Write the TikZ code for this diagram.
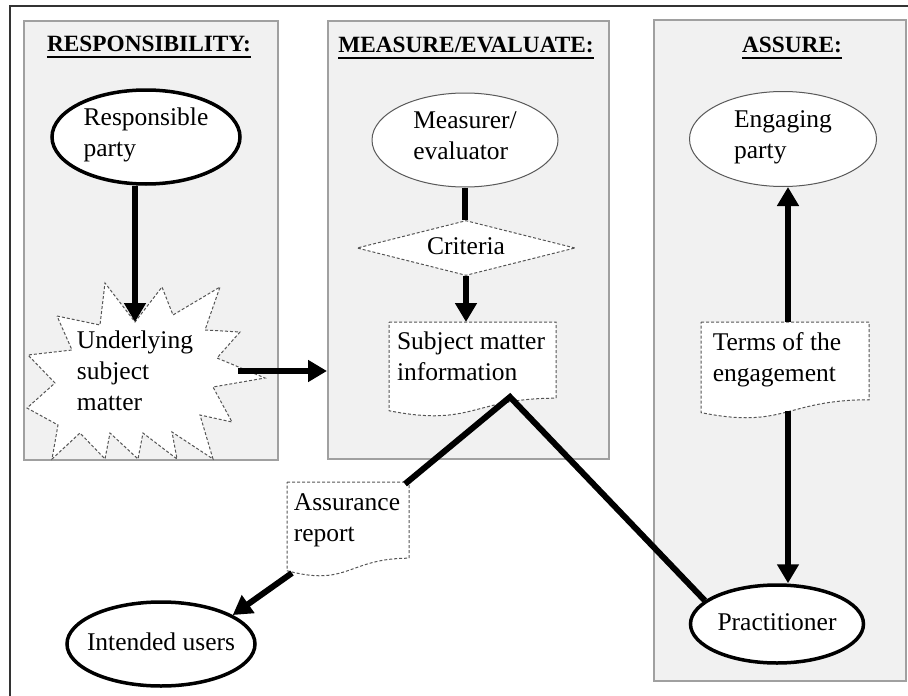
\documentclass[tikz,border=0pt]{standalone}
\usepackage{fontspec}
\setmainfont{Liberation Serif}
\usetikzlibrary{arrows.meta,shapes.geometric}
\definecolor{panelfill}{HTML}{F1F1F1}
\definecolor{panelline}{HTML}{A0A0A0}
\definecolor{dashgray}{HTML}{555555}
\definecolor{framegray}{HTML}{333333}
\tikzset{
  txt/.style={font=\fontsize{25.5}{31}\selectfont, align=left, inner sep=0pt,
    execute at begin node=\strut, execute at end node=\strut},
  ttl/.style={font=\fontsize{23.3}{27}\selectfont\bfseries, inner sep=0pt, anchor=base},
  panel/.style={fill=panelfill, draw=panelline, line width=1.5pt, anchor=north west, inner sep=0pt},
  thickell/.style={txt, ellipse, draw=black, line width=3.5pt, fill=white},
  thinell/.style={txt, ellipse, draw=black!65, line width=1pt, fill=white},
  dashline/.style={draw=dashgray, line width=1pt, dash pattern=on 3pt off 2pt},
  conn/.style={line width=6pt, line join=miter},
  arr/.style={line width=6pt, -{Triangle[length=19pt,width=21pt]}},
  uline/.style={line width=1.8pt},
  pics/docbox/.style args={#1/#2}{code={
    \draw[dashline, fill=white] (0,0) -- (#1,0) -- (#1,{0.802*#2})
      .. controls ({0.5*#1},{0.802*#2}) and ({0.5*#1},{1.107*#2}) .. (0,{0.934*#2}) -- cycle;
  }},
}
\begin{document}
\begin{tikzpicture}[x=1pt,y=-1pt]
\useasboundingbox (0,0) rectangle (908,696);
% outer frame
\draw[framegray, line width=2.5pt] (10,697) -- (10,6) -- (909,6);
% panels
\node[panel, minimum width=254pt, minimum height=439pt] (p1) at (23,20) {};
\node[panel, minimum width=281pt, minimum height=438pt] (p2) at (327,20) {};
\node[panel, minimum width=252pt, minimum height=661pt] (p3) at (653,19) {};
% titles
\node[ttl] (t1) at (149,51) {RESPONSIBILITY:};
\node[ttl] (t2) at (466,52) {MEASURE/EVALUATE:};
\node[ttl] (t3) at (792,52) {ASSURE:};
\foreach \t in {t1,t2,t3}
  \draw[uline] ([yshift=-6pt]\t.base west) -- ([yshift=-6pt]\t.base east);
% responsibility
\node[thickell, minimum width=188pt, minimum height=94pt] (resp) at (146,137) {Responsible\\party};
\draw[dashline, fill=white] (57,316) -- (100,325) -- (105,283) -- (135,322) -- (162,287) -- (173,315)
  -- (220,287) -- (205,330) -- (240,332) -- (217,358) -- (265,378) -- (213,387) -- (232,422)
  -- (200,415) -- (213,459) -- (172,432) -- (177,459) -- (143,433) -- (138,459) -- (110,433)
  -- (105,459) -- (80,433) -- (52,459) -- (58,425) -- (27,408) -- (55,383) -- (28,355)
  -- (72,350) -- cycle;
\node[txt] (under) at (135,375) {Underlying\\subject\\matter};
\coordinate (ua) at (135,322);
\draw[arr] (resp.south -| ua) -- (ua);
\coordinate (ub) at (238,371);
\draw[arr] (ub) -- (ub -| p2.west);
% measure / evaluate
\node[thinell, minimum width=186pt, minimum height=94pt] (meas) at (465,140) {Measurer/\\evaluator};
\node[txt, diamond, dashline, fill=white, minimum width=218pt, minimum height=55pt, shape aspect=4] (crit) at (466,248) {Criteria};
\draw[conn] (meas.south) -- (meas.south |- crit.north);
\pic at (389,322) {docbox={167/95}};
\node[txt] (smi) at (471,361) {Subject matter\\information};
\coordinate (smitop) at (467,322);
\draw[arr] (crit.south) -- (crit.south |- smitop);
% assure
\node[thinell, minimum width=187pt, minimum height=95pt] (eng) at (783,139) {Engaging\\party};
\pic at (701,322) {docbox={168/97}};
\node[txt] (terms) at (777,362) {Terms of the\\engagement};
\node[thickell, inner xsep=-6pt, minimum width=173pt, minimum height=78pt] (prac) at (777,624) {Practitioner};
\coordinate (tt) at (788,322);
\coordinate (tb) at (788,411);
\draw[arr] (tt) -- (tt |- eng.south);
\draw[arr] (tb) -- (tb |- prac.north);
% report
\pic at (287,482) {docbox={122/95}};
\node[txt] (ar) at (347,522) {Assurance\\report};
\node[thickell, inner xsep=-16pt, minimum width=188pt, minimum height=84pt] (iu) at (161,644) {Intended users};
\coordinate (apex) at (510,397);
\coordinate (artr) at (405,484);
\coordinate (arbl) at (292,573);
\draw[conn] (artr) -- (apex) -- (prac.162);
\draw[arr] (arbl) -- (iu.22);
\end{tikzpicture}
\end{document}
